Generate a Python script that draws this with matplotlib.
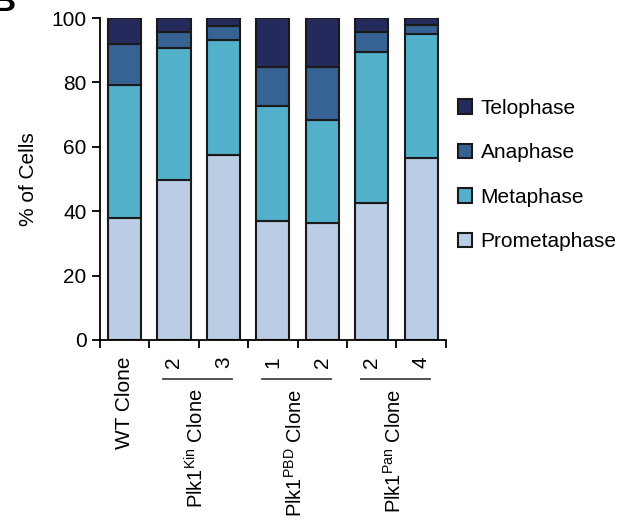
import matplotlib
matplotlib.use("Agg")
import matplotlib.pyplot as plt
import matplotlib.transforms as mtransforms
from matplotlib.patches import Patch
import numpy as np

plt.rcParams['font.family'] = ['Liberation Sans', 'DejaVu Sans']
plt.rcParams['mathtext.fontset'] = 'custom'
plt.rcParams['mathtext.rm'] = 'Liberation Sans'

# bar labels (under each bar) and groups
bar_labels = ['WT Clone', '2', '3', '1', '2', '2', '4']
groups = [r'Plk1$^{\mathrm{Kin}}$ Clone', r'Plk1$^{\mathrm{PBD}}$ Clone', r'Plk1$^{\mathrm{Pan}}$ Clone']
group_bars = [(1, 2), (3, 4), (5, 6)]

# percentages of cells in each phase
prometaphase = [37.9, 49.7, 57.3, 37.1, 36.2, 42.4, 56.5]
metaphase = [41.4, 41.0, 35.8, 35.6, 32.0, 47.1, 38.5]
anaphase = [12.6, 5.1, 4.4, 12.2, 16.5, 6.3, 2.9]
telophase = [8.1, 4.2, 2.5, 15.1, 15.3, 4.2, 2.1]

phases = ['Prometaphase', 'Metaphase', 'Anaphase', 'Telophase']
colors = ['#bacde5', '#52b0ca', '#376294', '#252a5c']

fig = plt.figure(figsize=(6.36, 5.22), dpi=100)
ax = fig.add_axes([0.157, 0.3487, 0.544, 0.6168])

x = np.arange(len(bar_labels))
bottom = np.zeros(len(x))
for vals, c in zip([prometaphase, metaphase, anaphase, telophase], colors):
    ax.bar(x, vals, width=0.67, bottom=bottom, color=c, edgecolor='#1a1a1a', linewidth=1.5)
    bottom += np.array(vals)

ax.set_xlim(-0.5, 6.5)
ax.set_ylim(0, 100)
ax.set_yticks([0, 20, 40, 60, 80, 100])
ax.tick_params(axis='y', labelsize=15, length=6, width=1.3, direction='out')
ax.set_ylabel('% of Cells', fontsize=15, labelpad=10)

ax.set_xticks(x)
ax.set_xticklabels(bar_labels, rotation=90, fontsize=15, va='top')
ax.tick_params(axis='x', which='major', length=0, pad=12)
ax.set_xticks(np.arange(-0.5, 7.0, 1.0), minor=True)
ax.tick_params(axis='x', which='minor', length=6, width=1.3, direction='out')

for s in ['top', 'right']:
    ax.spines[s].set_visible(False)
for s in ['left', 'bottom']:
    ax.spines[s].set_linewidth(1.3)

trans = mtransforms.blended_transform_factory(ax.transData, ax.transAxes)
for name, (a, b) in zip(groups, group_bars):
    ax.plot([a - 0.22, b + 0.18], [-0.121, -0.121], color='#444444', lw=1.3,
            transform=trans, clip_on=False)
    ax.text((a + b) / 2 - 0.05, -0.152, name, rotation=90, ha='center', va='top',
            fontsize=14.5, transform=trans)

handles = [Patch(facecolor=c, edgecolor='#1a1a1a', linewidth=1.5, label=p)
           for p, c in zip(phases, colors)][::-1]
fig.legend(handles=handles, loc='upper left', bbox_to_anchor=(0.69, 0.847),
           frameon=False, fontsize=15, handlelength=0.7, handleheight=0.7,
           handletextpad=0.4, labelspacing=1.23)

fig.text(-0.0126, 0.979, 'B', fontsize=24, fontweight='bold', ha='left', va='baseline')

fig.savefig('out.png', dpi=100)
